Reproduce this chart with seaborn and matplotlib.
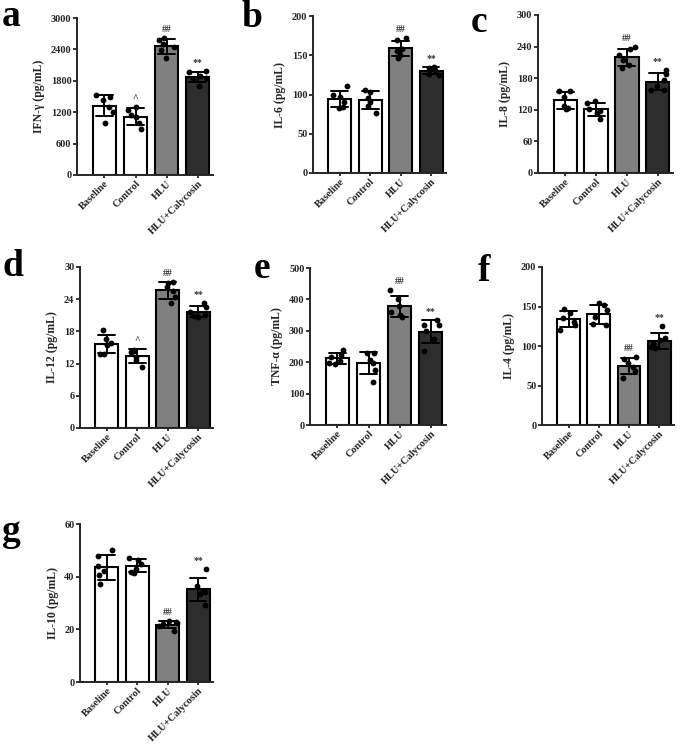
import matplotlib.pyplot as plt
import numpy as np
import pandas as pd
import seaborn as sns

groups = ["Baseline", "Control", "HLU", "HLU+Calycosin"]
bar_colors = ["#ffffff", "#ffffff", "#808080", "#2d2d2d"]

# individual points per group (Baseline, Control, HLU, HLU+Calycosin)
ifn_g = [[1530, 1500, 1440, 1300, 1200, 990],
         [1300, 1250, 1150, 1100, 1000, 870],
         [2620, 2580, 2500, 2440, 2380, 2230],
         [1990, 1960, 1900, 1860, 1830, 1700]]
il_6 = [[111, 100, 97, 90, 84, 83],
        [106, 103, 96, 90, 85, 76],
        [172, 169, 158, 156, 150, 147],
        [135, 134, 132, 131, 126, 125]]
il_8 = [[156, 155, 145, 128, 123, 122],
        [136, 133, 122, 118, 114, 103],
        [240, 236, 224, 214, 206, 200],
        [196, 188, 176, 166, 157, 158]]
il_12 = [[18.2, 16.6, 15.9, 15.4, 13.8, 13.7],
         [14.6, 14.4, 14.1, 13.2, 12.6, 11.3],
         [27.2, 27.1, 26.3, 25.5, 24.5, 23.2],
         [23.2, 22.6, 21.6, 21.1, 20.8, 20.6]]
tnf_a = [[240, 222, 215, 205, 197, 193],
         [230, 228, 208, 196, 176, 138],
         [430, 400, 380, 360, 350, 345],
         [335, 320, 318, 300, 275, 237]]
il_4 = [[147, 142, 136, 131, 126, 120],
        [154, 152, 145, 137, 128, 126],
        [86, 84, 78, 74, 68, 60],
        [125, 110, 108, 102, 99, 97]]
il_10 = [[50, 48, 44, 42, 40.5, 37.2],
         [47, 46.5, 45, 43, 41.8, 41.3],
         [23, 22.8, 22.5, 22, 21.2, 19.2],
         [43, 36.5, 34.5, 34, 33.5, 29.3]]

marks_caret = ["", "^", "##", "**"]
marks_plain = ["", "", "##", "**"]

# letter, y label, data, ymax, tick step, marks, axes box in pixels (left, top, right, bottom), letter pos
panels = [
    ("a", "IFN-γ (pg/mL)", ifn_g, 3000, 600, marks_caret, (77, 18, 213, 175), (2, 26)),
    ("b", "IL-6 (pg/mL)", il_6, 200, 50, marks_plain, (313, 16, 446, 173), (241, 27)),
    ("c", "IL-8 (pg/mL)", il_8, 300, 60, marks_plain, (538, 15, 673, 173), (471, 32)),
    ("d", "IL-12 (pg/mL)", il_12, 30, 6, marks_caret, (80, 267, 213, 428), (2, 276)),
    ("e", "TNF-α (pg/mL)", tnf_a, 500, 100, marks_plain, (310, 268, 446, 425), (254, 278)),
    ("f", "IL-4 (pg/mL)", il_4, 200, 50, marks_plain, (542, 267, 674, 425), (478, 281)),
    ("g", "IL-10 (pg/mL)", il_10, 60, 20, marks_plain, (80, 524, 213, 682), (2, 541)),
]

sns.set_style("ticks")
plt.rcParams["font.family"] = ["Liberation Serif", "DejaVu Serif"]
plt.rcParams["font.weight"] = "bold"
plt.rcParams["axes.labelweight"] = "bold"

W, H = 685, 754
fig = plt.figure(figsize=(W / 100, H / 100), dpi=100)
np.random.seed(7)

for letter, ylabel, vals, ymax, step, marks, box, lpos in panels:
    left, top, right, bottom = box
    ax = fig.add_axes([left / W, 1 - bottom / H, (right - left) / W, (bottom - top) / H])
    df = pd.DataFrame({
        "group": [g for g, v in zip(groups, vals) for _ in v],
        "value": [x for v in vals for x in v],
    })
    sns.barplot(data=df, x="group", y="value", hue="group", order=groups,
                hue_order=groups, palette=dict(zip(groups, bar_colors)),
                errorbar="sd", capsize=0.55, width=0.75,
                err_kws={"color": "black", "linewidth": 1.4},
                edgecolor="black", linewidth=1.5, legend=False, ax=ax)
    sns.stripplot(data=df, x="group", y="value", order=groups, color="black",
                  size=4.2, jitter=0.3, ax=ax)

    for i, v in enumerate(vals):
        if marks[i]:
            top_val = max(np.mean(v) + np.std(v, ddof=1), max(v))
            ax.text(i, top_val + ymax * 0.025, marks[i], ha="center", va="bottom",
                    fontsize=7, color="#333333")

    ax.set_xlim(-0.88, 3.49)
    ax.set_ylim(0, ymax)
    ax.set_yticks(np.arange(0, ymax + step / 2, step))
    ax.set_xlabel("")
    ax.set_ylabel(ylabel, fontsize=8.5, labelpad=4)
    ax.tick_params(axis="y", labelsize=7.5, length=3, width=1.3, pad=1)
    ax.tick_params(axis="x", labelsize=7.5, length=2, width=1.3, pad=1)
    for lab in ax.get_xticklabels():
        lab.set_rotation(45)
        lab.set_ha("right")
        lab.set_rotation_mode("anchor")
    sns.despine(ax=ax)
    for s in ["left", "bottom"]:
        ax.spines[s].set_linewidth(1.4)

    fig.text(lpos[0] / W, 1 - lpos[1] / H, letter, fontsize=27, fontweight="bold",
             color="black", ha="left", va="baseline")

fig.savefig("out.png", dpi=100)
